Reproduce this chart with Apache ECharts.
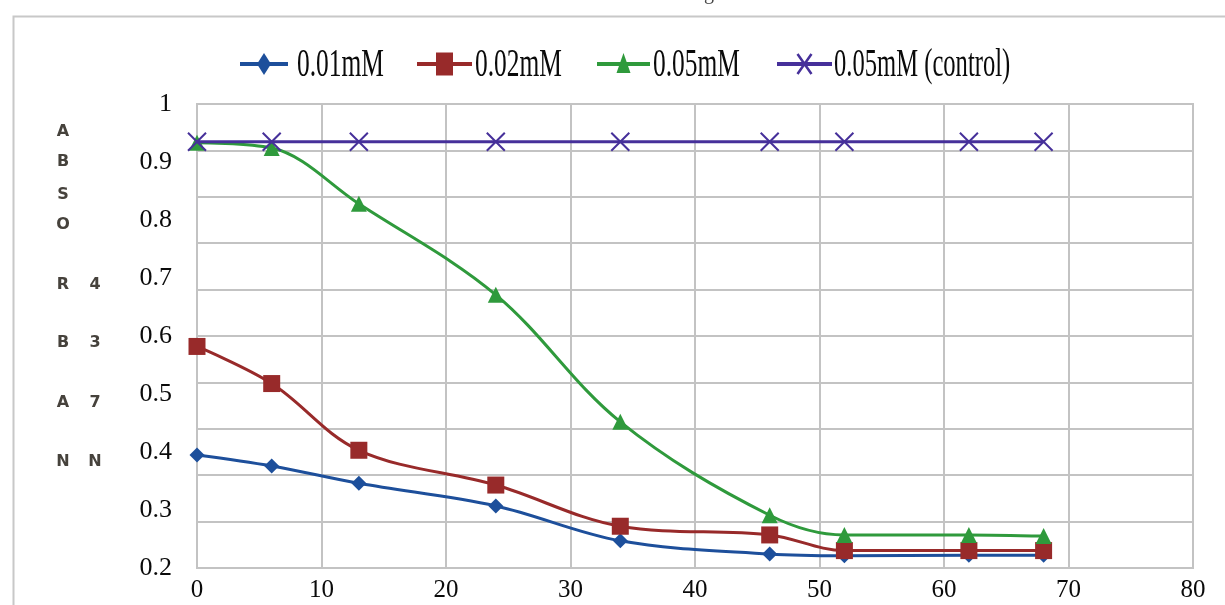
<!DOCTYPE html>
<html>
<head>
<meta charset="utf-8">
<script src="https://cdn.jsdelivr.net/npm/echarts@6/dist/echarts.min.js"></script>
<style>
  html, body { margin: 0; padding: 0; background: #ffffff; }
  #chart { width: 1225px; height: 605px; }
</style>
</head>
<body>
<div id="chart"></div>
<script>
// ---- data ----
const timePoints = [0, 6, 13, 24, 34, 46, 52, 62, 68];
const seriesNames = ['0.01mM', '0.02mM', '0.05mM', '0.05mM (control)'];
const abs001 = [0.395, 0.376, 0.346, 0.307, 0.247, 0.224, 0.221, 0.222, 0.222];
const abs002 = [0.582, 0.518, 0.403, 0.343, 0.272, 0.257, 0.230, 0.230, 0.230];
const abs005 = [0.933, 0.924, 0.828, 0.671, 0.452, 0.291, 0.257, 0.257, 0.255];
const absCtrl = [0.935, 0.935, 0.935, 0.935, 0.935, 0.935, 0.935, 0.935, 0.935];
const axisTitleCol1 = ['A', 'B', 'S', 'O', 'R', 'B', 'A', 'N'];
const axisTitleCol2 = ['4', '3', '7', 'N'];

// ---- style ----
const colors = ['#1d4f9b', '#982a2a', '#2f9a3c', '#46309a'];
const symbols = ['diamond', 'rect', 'triangle', 'path://M0,0L10,10M10,0L0,10'];
const symbolSizes = [15, 17, 16, 18];
const gridColor = '#c3c3c3';
const serif = '"Liberation Serif", "Times New Roman", serif';

const allValues = [abs001, abs002, abs005, absCtrl];

const series = allValues.map((vals, i) => ({
  name: seriesNames[i],
  type: 'line',
  yAxisIndex: 0,
  data: timePoints.map((t, k) => [t, vals[k]]),
  smooth: 0.35,
  symbol: symbols[i],
  symbolSize: symbolSizes[i],
  showAllSymbol: true,
  lineStyle: { color: colors[i], width: 3 },
  itemStyle: i === 3
    ? { color: colors[i], borderColor: colors[i], borderWidth: 2 }
    : { color: colors[i] },
  emphasis: { disabled: true },
  z: 2 + i
}));

// ---- legend built as graphics (condensed text like the original) ----
const legendY = 64;
const legendLine = [[240, 288], [417, 472], [597, 650], [777, 832]];
const legendTextX = [297, 475, 653, 834];
const legendScale = [0.62, 0.62, 0.62, 0.6];
const graphics = [];

// outer frame
graphics.push({
  type: 'rect', left: 11, top: 14, silent: true,
  shape: { x: 0, y: 0, width: 1400, height: 800 },
  style: { fill: 'none', stroke: '#c8c8c8', lineWidth: 2 }
});
// fragment of a glyph above the frame
graphics.push({
  type: 'text', x: 704, y: -16, silent: true,
  style: { text: 'g', font: '20px ' + serif, fill: '#444', textVerticalAlign: 'top' }
});

function markerShape(i, cx, cy) {
  const c = colors[i];
  if (i === 0) {
    return { type: 'polygon', shape: { points: [[cx, cy - 11], [cx + 7, cy], [cx, cy + 11], [cx - 7, cy]] }, style: { fill: c } };
  } else if (i === 1) {
    return { type: 'rect', shape: { x: cx - 8.5, y: cy - 11.5, width: 17, height: 23 }, style: { fill: c } };
  } else if (i === 2) {
    return { type: 'polygon', shape: { points: [[cx, cy - 11], [cx + 7, cy + 9], [cx - 7, cy + 9]] }, style: { fill: c } };
  }
  return { type: 'polyline', shape: { points: [[cx - 7, cy - 10], [cx, cy], [cx + 7, cy - 10], [cx, cy], [cx - 7, cy + 10], [cx, cy], [cx + 7, cy + 10]] }, style: { stroke: c, lineWidth: 2.5, fill: 'none' } };
}

seriesNames.forEach((name, i) => {
  const [x0, x1] = legendLine[i];
  graphics.push({
    type: 'line', silent: true,
    shape: { x1: x0, y1: legendY, x2: x1, y2: legendY },
    style: { stroke: colors[i], lineWidth: 4 }
  });
  const m = markerShape(i, (x0 + x1) / 2, legendY);
  m.silent = true;
  graphics.push(m);
  graphics.push({
    type: 'text', x: legendTextX[i], y: legendY + 1, scaleX: legendScale[i], silent: true,
    style: { text: name, font: '41px ' + serif, fill: '#0a0a0a', textVerticalAlign: 'middle' }
  });
});

// stacked-letter axis title
const col1Y = [132, 162, 195, 225, 285, 343, 403, 462];
const col2Y = [285, 343, 403, 462];
const titleFont = 'bold 16px "DejaVu Sans", sans-serif';
axisTitleCol1.forEach((ch, k) => {
  graphics.push({
    type: 'text', x: 63, y: col1Y[k], silent: true,
    style: { text: ch, font: titleFont, fill: '#46423c', textAlign: 'center', textVerticalAlign: 'middle' }
  });
});
axisTitleCol2.forEach((ch, k) => {
  graphics.push({
    type: 'text', x: 95, y: col2Y[k], silent: true,
    style: { text: ch, font: titleFont, fill: '#46423c', textAlign: 'center', textVerticalAlign: 'middle' }
  });
});

const chart = echarts.init(document.getElementById('chart'), null, { renderer: 'canvas' });
chart.setOption({
  animation: false,
  backgroundColor: '#ffffff',
  grid: {
    left: 197, right: 32, top: 104, bottom: 37,
    show: true, borderColor: gridColor, borderWidth: 2, backgroundColor: 'transparent'
  },
  xAxis: {
    type: 'value', min: 0, max: 80, interval: 10,
    axisLine: { show: true, lineStyle: { color: gridColor, width: 2 } },
    axisTick: { show: false },
    axisLabel: { fontFamily: serif, fontSize: 25, color: '#0a0a0a', margin: 10 },
    splitLine: { show: true, lineStyle: { color: gridColor, width: 2 } }
  },
  yAxis: [
    {
      type: 'value', min: 0.2, max: 1, interval: 0.1,
      axisLine: { show: true, lineStyle: { color: gridColor, width: 2 } },
      axisTick: { show: false },
      axisLabel: { fontFamily: serif, fontSize: 26, color: '#0a0a0a', margin: 25 },
      splitLine: { show: false }
    },
    {
      type: 'value', min: 0, max: 10, interval: 1, position: 'right',
      axisLine: { show: false }, axisTick: { show: false },
      axisLabel: { show: false },
      splitLine: { show: true, lineStyle: { color: gridColor, width: 2 } }
    }
  ],
  legend: { show: false },
  series: series,
  graphic: graphics
});
</script>
</body>
</html>
